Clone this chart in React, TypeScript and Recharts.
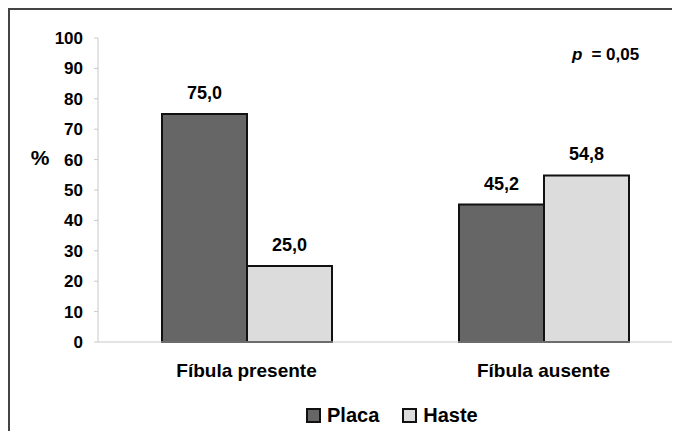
import React from 'react';
import { BarChart, Bar, XAxis, YAxis, Legend, LabelList } from 'recharts';

const categories = ['Fíbula presente', 'Fíbula ausente'];
const placa = [75.0, 45.2];
const haste = [25.0, 54.8];
const yTicks = [0, 10, 20, 30, 40, 50, 60, 70, 80, 90, 100];
const seriesNames = ['Placa', 'Haste'];
const pText = '= 0,05';

const data = categories.map((c, i) => ({ cat: c, placa: placa[i], haste: haste[i] }));

const fmt = (v: number) => v.toFixed(1).replace('.', ',');

const FONT = 'Arial, "Liberation Sans", Helvetica, sans-serif';

const LegendContent = (props: any) => {
  const payload = [...(props.payload || [])].sort(
    (a: any, b: any) => seriesNames.indexOf(a.value) - seriesNames.indexOf(b.value)
  );
  return (
    <div style={{ display: 'flex', alignItems: 'center', height: 20, fontFamily: FONT, fontWeight: 'bold', fontSize: 20, color: '#000' }}>
      {payload.map((p: any, i: number) => (
        <div key={i} style={{ display: 'flex', alignItems: 'center', marginRight: i === 0 ? 23 : 0 }}>
          <div style={{ width: 11, height: 11, border: '2px solid #111', background: p.color, marginRight: 6 }} />
          <span style={{ lineHeight: '20px' }}>{p.value}</span>
        </div>
      ))}
    </div>
  );
};

export default function App() {
  return (
    <div style={{ position: 'relative', width: 670, height: 421, overflow: 'hidden', borderTop: '2px solid #444', borderLeft: '2px solid #444', background: '#fff' }}>
      <BarChart
        width={700}
        height={429}
        data={data}
        margin={{ top: 28, right: 18, bottom: 37, left: 0 }}
        barGap={0}
        barSize={85}
      >
        <XAxis
          dataKey="cat"
          stroke="#c8c8c8"
          tickLine={false}
          tickSize={0}
          tickMargin={22}
          height={40}
          tick={{ fill: '#000', fontSize: 19, fontWeight: 'bold', fontFamily: FONT }}
        />
        <YAxis
          width={88}
          domain={[0, 100]}
          ticks={yTicks}
          interval={0}
          stroke="#c8c8c8"
          tickSize={4}
          tickMargin={11}
          tick={{ fill: '#000', fontSize: 17, fontWeight: 'bold', fontFamily: FONT }}
        />
        <Legend
          content={<LegendContent />}
          wrapperStyle={{ position: 'absolute', left: 296, top: 395, width: 'auto', height: 20 }}
        />
        <Bar dataKey="placa" name={seriesNames[0]} fill="#666666" stroke="#111" strokeWidth={2} isAnimationActive={false}>
          <LabelList dataKey="placa" position="top" offset={15} formatter={(v: any) => fmt(Number(v))} style={{ fill: '#000', fontSize: 18, fontWeight: 'bold', fontFamily: FONT }} />
        </Bar>
        <Bar dataKey="haste" name={seriesNames[1]} fill="#dcdcdc" stroke="#111" strokeWidth={2} isAnimationActive={false}>
          <LabelList dataKey="haste" position="top" offset={15} formatter={(v: any) => fmt(Number(v))} style={{ fill: '#000', fontSize: 18, fontWeight: 'bold', fontFamily: FONT }} />
        </Bar>
      </BarChart>
      <svg width={670} height={421} style={{ position: 'absolute', left: 0, top: 0, pointerEvents: 'none' }}>
        <text x={30} y={155} textAnchor="middle" fontFamily={FONT} fontWeight="bold" fontSize={21} fill="#000">%</text>
        <text x={562} y={50} fontFamily={FONT} fontWeight="bold" fontSize={17} fill="#000">
          <tspan fontStyle="italic">p</tspan>
          <tspan dx={9}>{pText}</tspan>
        </text>
      </svg>
    </div>
  );
}
